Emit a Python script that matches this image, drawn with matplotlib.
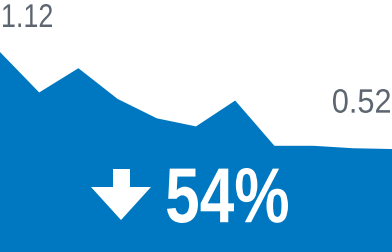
import matplotlib
matplotlib.use("Agg")
from matplotlib import pyplot as plt
from matplotlib.font_manager import FontProperties
from matplotlib.patches import PathPatch, Polygon
from matplotlib.textpath import TextPath
from matplotlib.transforms import Affine2D, IdentityTransform

# data
periods = list(range(11))
values = [1.12, 0.87, 1.02, 0.83, 0.71, 0.66, 0.82, 0.54, 0.54, 0.525, 0.52]
first_label = "1.12"
last_label = "0.52"
change_label = "54%"

BLUE = "#0078c1"
GREY = "#5d6670"

W, H = 392, 252
fig = plt.figure(figsize=(W / 100, H / 100), dpi=100)
ax = fig.add_axes([0, 0, 1, 1])
ax.fill_between(periods, values, -0.2, color=BLUE, linewidth=0)
ax.set_xlim(periods[0], periods[-1])
ax.set_ylim(-0.117, 1.442)
ax.axis("off")


def condensed_text(s, box, color, weight="normal"):
    """Draw s squeezed into box = (left, top, right, bottom) in image pixels."""
    left, top, right, bottom = box
    path = TextPath((0, 0), s, size=100,
                    prop=FontProperties(family="Liberation Sans", weight=weight))
    ext = path.get_extents()
    sx = (right - left) / ext.width
    sy = (bottom - top) / ext.height
    tr = (Affine2D().translate(-ext.x0, -ext.y0).scale(sx, sy)
          .translate(left, H - bottom))
    fig.patches.append(PathPatch(tr.transform_path(path), facecolor=color,
                                 edgecolor="none", transform=IdentityTransform()))


# value labels at both ends, and the big change indicator
condensed_text(first_label, (3, 4, 52, 27), GREY)
condensed_text(last_label, (333, 89, 390, 113), GREY)
condensed_text(change_label, (167, 168, 288, 223), "white", weight="bold")

# down arrow (pixel coordinates of the glyph)
arrow_px = [(113, 169), (130, 169), (130, 187), (151, 187), (121, 220),
            (91, 187), (113, 187)]
fig.patches.append(Polygon([(x, H - y) for x, y in arrow_px], closed=True,
                           transform=IdentityTransform(), color="white",
                           linewidth=0))

fig.savefig("out.png", dpi=100)
